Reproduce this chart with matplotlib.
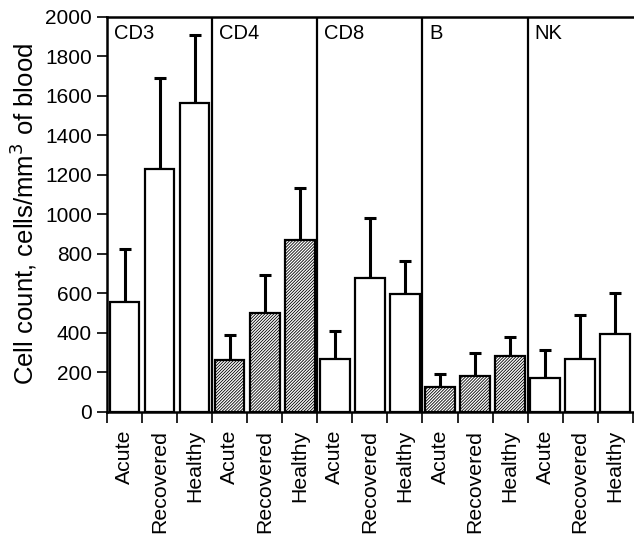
import matplotlib
matplotlib.use("Agg")
import matplotlib.pyplot as plt
import numpy as np

plt.rcParams['font.family'] = ['Liberation Sans', 'DejaVu Sans']
plt.rcParams['hatch.linewidth'] = 0.6

groups = ["CD3", "CD4", "CD8", "B", "NK"]
conditions = ["Acute", "Recovered", "Healthy"]
means = {
    "CD3": [553, 1230, 1562],
    "CD4": [264, 502, 868],
    "CD8": [267, 676, 597],
    "B":   [124, 180, 284],
    "NK":  [173, 266, 395],
}
upper = {
    "CD3": [826, 1688, 1908],
    "CD4": [390, 690, 1132],
    "CD8": [408, 981, 762],
    "B":   [189, 299, 378],
    "NK":  [310, 488, 600],
}
hatched = {"CD3": False, "CD4": True, "CD8": False, "B": True, "NK": False}

fig = plt.figure(figsize=(6.34, 5.35), dpi=100)
ax = fig.add_axes([0.169, 0.2305, 0.829, 0.7385])

labels = []
for gi, g in enumerate(groups):
    for ci in range(3):
        x = gi * 3 + ci
        m = means[g][ci]
        err = upper[g][ci] - m
        ax.bar(x, m, width=0.84, facecolor='white', edgecolor='black',
               linewidth=1.6, hatch='/' * 11 if hatched[g] else None, zorder=2)
        ax.errorbar(x, m, yerr=[[0], [err]], fmt='none', ecolor='black',
                    elinewidth=2.2, capsize=4.6, capthick=2.2, zorder=1)
        labels.append(conditions[ci])
    if gi > 0:
        ax.axvline(gi * 3 - 0.5, color='black', linewidth=1.6, zorder=3)
    ax.text(gi * 3 - 0.3, 1887, g, ha='left', va='baseline', fontsize=14.5)

ax.set_xlim(-0.5, 14.5)
ax.set_ylim(0, 2000)
ax.set_yticks(np.arange(0, 2001, 200))
ax.set_xticks(np.arange(15))
ax.set_xticklabels(labels, rotation=90, fontsize=15.3)
ax.set_xticks(np.arange(-0.5, 15, 1), minor=True)
ax.tick_params(axis='x', which='major', length=0, pad=13)
ax.tick_params(axis='x', which='minor', length=8, width=1.2, direction='out')
ax.tick_params(axis='y', length=7, width=1.2, direction='out', labelsize=15, pad=4)
for s in ['left', 'bottom', 'top']:
    ax.spines[s].set_linewidth(1.8)
ax.spines['right'].set_visible(False)
ax.set_ylabel("Cell count, cells/mm$^3$ of blood", fontsize=18.5, labelpad=4)

fig.savefig("out.png", dpi=100)
